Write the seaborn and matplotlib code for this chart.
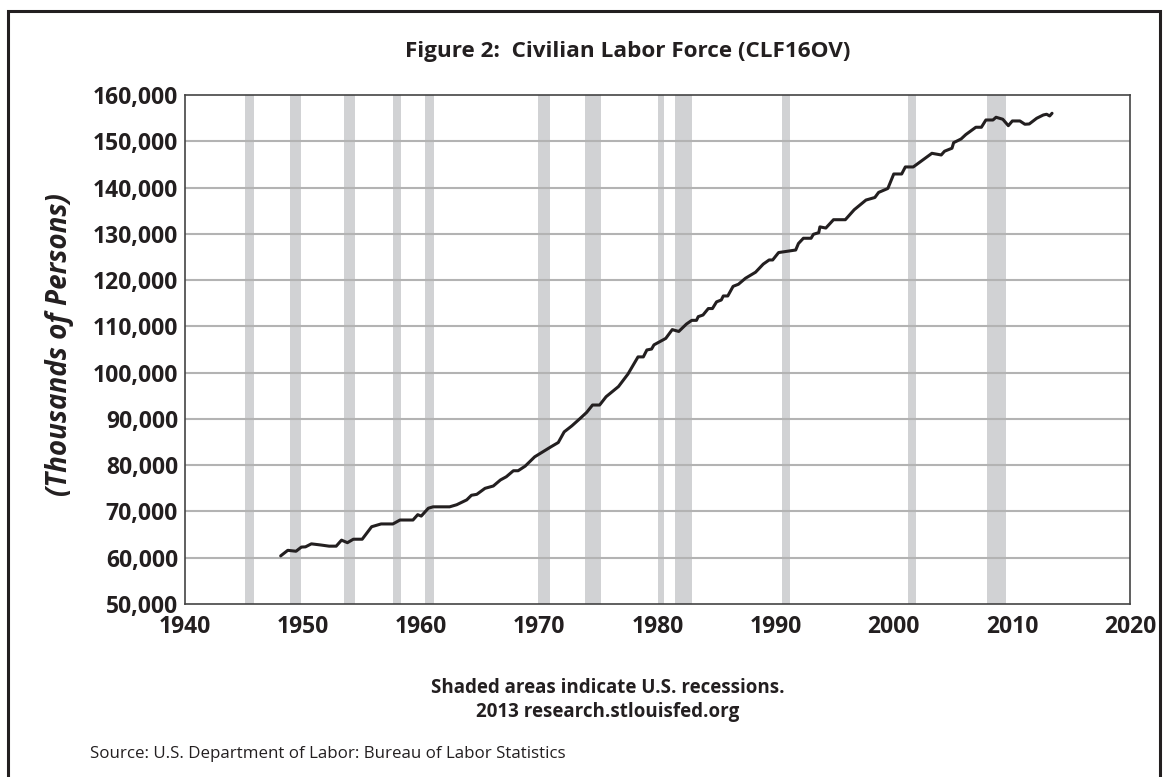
import seaborn as sns
import pandas as pd
import matplotlib.pyplot as plt
from matplotlib.patches import Rectangle
from matplotlib.ticker import FuncFormatter

# CLF16OV (year, thousands of persons)
years = [1948.1, 1948.7, 1949.4, 1949.85, 1950.2, 1950.7, 1951.5, 1952.2, 1952.8, 1953.25,
         1953.75, 1954.25, 1955.0, 1955.8, 1956.6, 1957.6, 1958.2, 1959.3, 1959.7, 1960.0,
         1960.6, 1961.0, 1962.4, 1963.0, 1963.85, 1964.25, 1964.7, 1965.4, 1966.1, 1966.7,
         1967.2, 1967.8, 1968.2, 1968.8, 1969.6, 1970.3, 1971.0, 1971.6, 1972.1, 1972.75,
         1973.45, 1974.0, 1974.5, 1975.1, 1975.65, 1976.7, 1977.5, 1978.35, 1978.8, 1979.1,
         1979.5, 1979.7, 1980.7, 1981.25, 1981.8, 1982.45, 1982.9, 1983.3, 1983.45, 1983.85,
         1984.3, 1984.65, 1985.0, 1985.4, 1985.57, 1985.95, 1986.4, 1986.85, 1987.45, 1988.3,
         1988.95, 1989.45, 1989.75, 1990.25, 1991.7, 1991.93, 1992.35, 1993.0, 1993.2, 1993.65,
         1993.75, 1994.25, 1994.9, 1995.9, 1996.65, 1997.65, 1998.4, 1998.72, 1999.5, 2000.0,
         2000.67, 2000.98, 2001.65, 2003.23, 2004.02, 2004.3, 2004.93, 2005.07, 2005.7, 2006.1,
         2006.95, 2007.42, 2007.8, 2008.4, 2008.66, 2009.23, 2009.7, 2010.04, 2010.68, 2011.1,
         2011.47, 2012.1, 2012.66, 2012.94, 2013.2, 2013.4]
clf = [60400, 61600, 61400, 62300, 62350, 63000, 62750, 62500, 62500, 63800,
       63250, 64000, 64000, 66700, 67300, 67300, 68150, 68150, 69300, 69000,
       70700, 71000, 71000, 71450, 72500, 73500, 73700, 75000, 75500, 76800,
       77500, 78800, 78800, 79800, 81800, 82900, 84000, 84900, 87200, 88500,
       90100, 91400, 93000, 93000, 94800, 97000, 99700, 103400, 103400, 104900,
       105100, 106000, 107400, 109300, 108900, 110500, 111300, 111300, 112100, 112450,
       113850, 113850, 115300, 115700, 116570, 116570, 118650, 119100, 120400, 121700,
       123450, 124350, 124350, 125950, 126500, 127900, 129040, 129040, 129900, 130250,
       131500, 131250, 133050, 133050, 135200, 137300, 137850, 138950, 139800, 142930,
       142930, 144450, 144450, 147400, 147040, 147850, 148500, 149700, 150500, 151450,
       153030, 153030, 154600, 154600, 155190, 154760, 153370, 154390, 154390, 153680,
       153740, 154970, 155680, 155840, 155470, 156050]

# NBER recessions (start, end)
rec_start = [1945.1, 1948.9, 1953.5, 1957.6, 1960.3, 1969.9, 1973.85, 1980.0, 1981.5, 1990.55, 2001.2, 2007.9]
rec_end = [1945.8, 1949.8, 1954.4, 1958.3, 1961.1, 1970.9, 1975.2, 1980.55, 1982.9, 1991.2, 2001.9, 2009.5]

x_ticks = [1940, 1950, 1960, 1970, 1980, 1990, 2000, 2010, 2020]
y_ticks = list(range(50000, 160001, 10000))

df = pd.DataFrame({'year': years, 'clf': clf})

sns.set_style('white')
plt.rcParams['font.family'] = ['Open Sans', 'DejaVu Sans']
ink = '#231f20'

fig = plt.figure(figsize=(11.66, 7.77), dpi=100)
ax = fig.add_axes([185 / 1166, 1 - 604 / 777, (1130 - 185) / 1166, (604 - 95) / 777])

for s, e in zip(rec_start, rec_end):
    ax.axvspan(s, e, color='#d1d2d4', lw=0, zorder=0)

for v in y_ticks[1:-1]:
    ax.axhline(v, color='#b3b3b3', lw=1.5, zorder=1)

sns.lineplot(data=df, x='year', y='clf', ax=ax, color=ink, lw=2.2, zorder=3)

ax.set_xlim(1940, 2020)
ax.set_ylim(50000, 160000)
ax.set_xticks(x_ticks)
ax.set_yticks(y_ticks)
ax.yaxis.set_major_formatter(FuncFormatter(lambda v, p: f'{int(v):,}'))
ax.tick_params(direction='in', length=10, width=1.2, color=ink, labelcolor=ink, labelsize=16.5)
ax.tick_params(axis='x', pad=8)
ax.tick_params(axis='y', pad=5)
for lab in ax.get_xticklabels() + ax.get_yticklabels():
    lab.set_fontweight('bold')
for sp in ax.spines.values():
    sp.set_color('#444444')
    sp.set_linewidth(1.2)
ax.set_xlabel('')
ax.set_ylabel('')

fig.text(628 / 1166, 1 - 52 / 777, 'Figure 2:  Civilian Labor Force (CLF16OV)',
         ha='center', va='center', fontsize=16.2, fontweight='bold', color=ink)
fig.text(60 / 1166, 1 - 345 / 777, '(Thousands of Persons)', rotation=90,
         ha='center', va='center', fontsize=20, fontweight='bold', fontstyle='italic', color=ink)
fig.text(608 / 1166, 1 - 688 / 777, 'Shaded areas indicate U.S. recessions.',
         ha='center', va='center', fontsize=13.5, fontweight='bold', color=ink)
fig.text(608 / 1166, 1 - 712 / 777, '2013 research.stlouisfed.org',
         ha='center', va='center', fontsize=13.5, fontweight='bold', color=ink)
fig.text(90 / 1166, 1 - 754 / 777, 'Source: U.S. Department of Labor: Bureau of Labor Statistics',
         ha='left', va='center', fontsize=12.2, color=ink)

# outer frame
fig.patches.append(Rectangle((8 / 1166, -0.02), (1160 - 8) / 1166, 1.02 - 11 / 777,
                             transform=fig.transFigure, fill=False, edgecolor=ink, lw=2.2))

fig.savefig('out.png', dpi=100)
